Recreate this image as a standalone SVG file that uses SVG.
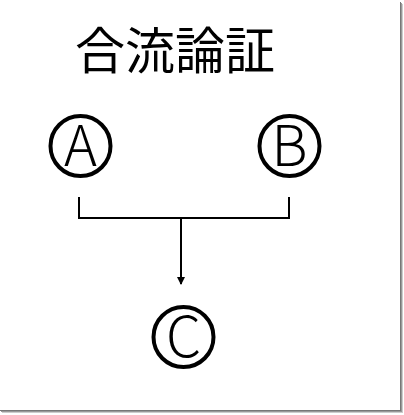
<svg xmlns="http://www.w3.org/2000/svg" width="404" height="415" viewBox="0 0 404 415">
<style>
.title{font-family:"Noto Sans CJK JP","Noto Sans CJK SC",sans-serif;font-size:50px;fill:#000}
.ring{fill:none;stroke:#000;stroke-width:4}
.letter{font-family:"Noto Sans CJK JP","Noto Sans CJK SC",sans-serif;font-size:56px;fill:#000;text-anchor:middle;font-weight:300}
.conn{fill:none;stroke:#000;stroke-width:2}
</style>
<defs>
<marker id="arr" markerWidth="8" markerHeight="8" refX="7" refY="4" orient="auto" markerUnits="userSpaceOnUse">
<path d="M0,0 L8,4 L0,8 Z" fill="#000"/>
</marker>
</defs>
<rect x="0" y="0" width="404" height="415" fill="#fff"/>
<g id="frame-shadow" fill="none">
<line x1="400.5" y1="2" x2="400.5" y2="411" stroke="#777"/>
<line x1="401.5" y1="3" x2="401.5" y2="412" stroke="#999"/>
<line x1="402.5" y1="4" x2="402.5" y2="413" stroke="#ccc"/>
<line x1="0" y1="410.5" x2="401" y2="410.5" stroke="#777"/>
<line x1="1" y1="411.5" x2="402" y2="411.5" stroke="#999"/>
<line x1="2" y1="412.5" x2="403" y2="412.5" stroke="#ccc"/>
</g>
<text id="title" class="title" x="75" y="69">合流論証</text>
<g id="nodeA"><circle class="ring" cx="80.5" cy="146" r="30"/><text class="letter" x="80.5" y="166">A</text></g>
<g id="nodeB"><circle class="ring" cx="289.5" cy="146" r="30"/><text class="letter" x="289.5" y="166">B</text></g>
<g id="nodeC"><circle class="ring" cx="183.5" cy="337" r="30"/><text class="letter" x="183.5" y="357">C</text></g>
<g id="connectors">
<polyline class="conn" points="79,197 79,218 289,218 289,197"/>
<line class="conn" x1="181" y1="218" x2="181" y2="284" marker-end="url(#arr)"/>
</g>
</svg>
